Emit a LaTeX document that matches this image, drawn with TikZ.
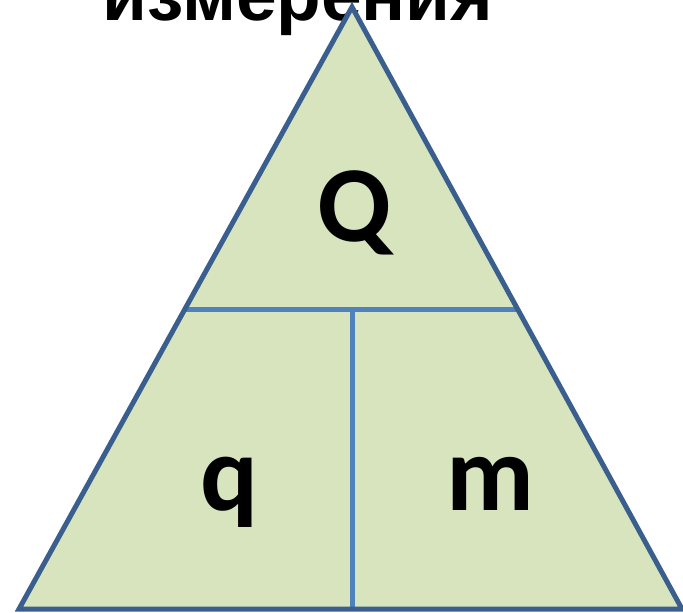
\documentclass[tikz,border=0pt]{standalone}
\usepackage{fontspec}
\setmainfont{Liberation Sans}
\newfontfamily\calfont{Carlito}
\definecolor{outl}{HTML}{3A5F8E}
\definecolor{inl}{HTML}{4F81BD}
\definecolor{fillg}{HTML}{D7E4BD}
\begin{document}
\begin{tikzpicture}[x=1pt,y=-1pt,
  title/.style={font=\fontsize{73}{73}\selectfont\bfseries, anchor=base, inner sep=0pt},
  letter/.style={font=\calfont\bfseries\fontsize{108}{108}\selectfont, anchor=base, inner sep=0pt},
  divider/.style={draw=inl, line width=5pt}]
\useasboundingbox (0,0) rectangle (683,613);
\node[title] (t) at (298,20) {измерения};
\coordinate (A) at (352,7);
\coordinate (L) at (19,609);
\coordinate (R) at (682,609);
\coordinate (HL) at (186,309);
\coordinate (HR) at (517,309);
\coordinate (VT) at (352,309);
\coordinate (VB) at (352,609);
\fill[fillg] (A) -- (L) -- (R) -- cycle;
\draw[divider] (HL) -- (HR);
\draw[divider] (VT) -- (VB);
\draw[outl, line width=5pt, line join=miter] (A) -- (L) -- (R) -- cycle;
\node[letter] (Q) at (355,241) {Q};
\node[letter] (q) at (229,510) {q};
\node[letter] (m) at (490,510) {m};
\end{tikzpicture}
\end{document}
